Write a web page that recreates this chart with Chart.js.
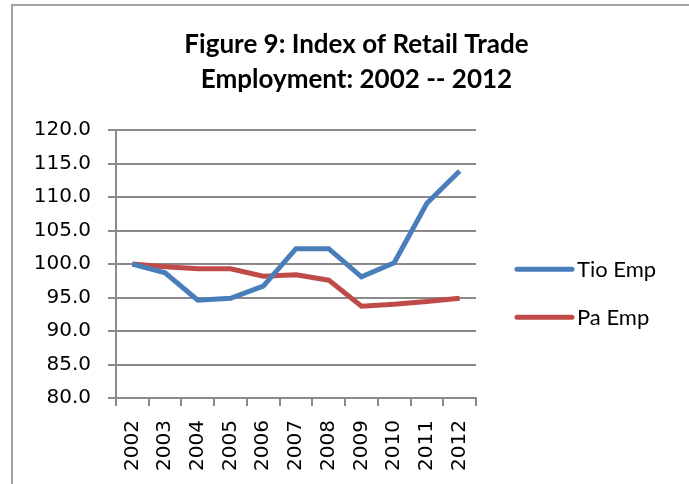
<!DOCTYPE html>
<html>
<head>
<meta charset="utf-8">
<script src="https://cdn.jsdelivr.net/npm/chart.js@4/dist/chart.umd.min.js"></script>
<style>
  html, body { margin: 0; padding: 0; background: #fff; overflow: hidden; }
  #frame {
    position: absolute; left: 11px; top: 4px; width: 700px; height: 500px;
    border: 2px solid #a3a3a3; box-sizing: border-box;
  }
  #wrap { position: absolute; left: 12px; top: 5px; width: 677px; height: 479px; }
</style>
</head>
<body>
<div id="frame"></div>
<div id="wrap"><canvas id="retailChart" width="677" height="479"></canvas></div>
<script>
const years = ["2002", "2003", "2004", "2005", "2006", "2007", "2008", "2009", "2010", "2011", "2012"];
const tioEmp = [100.0, 98.7, 94.6, 94.9, 96.7, 102.3, 102.3, 98.1, 100.2, 109.1, 113.9];
const paEmp = [100.0, 99.6, 99.3, 99.3, 98.2, 98.4, 97.6, 93.7, 94.0, 94.4, 94.9];
const yTicks = [80, 85, 90, 95, 100, 105, 110, 115, 120];

const blue = '#4a7ebb';
const red = '#be4b48';
const gridGray = '#8a8a8a';

// legend drawn to the right of the plot, a thick line swatch and a label
const sideLegend = {
  id: 'sideLegend',
  afterDraw(chart) {
    const { ctx, chartArea } = chart;
    const x0 = chartArea.right + 41;
    ctx.save();
    ctx.font = '22px Lato';
    ctx.textBaseline = 'middle';
    ctx.lineCap = 'round';
    chart.data.datasets.forEach((ds, i) => {
      const y = chartArea.top + 139 + i * 48;
      ctx.strokeStyle = ds.borderColor;
      ctx.lineWidth = 5;
      ctx.beginPath();
      ctx.moveTo(x0, y);
      ctx.lineTo(x0 + 55, y);
      ctx.stroke();
      ctx.fillStyle = '#000';
      ctx.fillText(ds.label, x0 + 60, y + 1);
    });
    ctx.restore();
  }
};

new Chart(document.getElementById('retailChart'), {
  type: 'line',
  data: {
    labels: years,
    datasets: [{
      label: 'Tio Emp',
      data: tioEmp,
      borderColor: blue,
      backgroundColor: blue,
      borderWidth: 5,
      pointRadius: 0,
      tension: 0
    }, {
      label: 'Pa Emp',
      data: paEmp,
      borderColor: red,
      backgroundColor: red,
      borderWidth: 5,
      pointRadius: 0,
      tension: 0
    }]
  },
  options: {
    responsive: false,
    animation: false,
    layout: { padding: { left: 12, right: 0, top: 0, bottom: 0 } },
    plugins: {
      legend: { display: false },
      tooltip: { enabled: false },
      title: {
        display: true,
        text: ['Figure 9: Index of Retail Trade', 'Employment: 2002 -- 2012'],
        color: '#000',
        font: { family: 'Lato', size: 26, weight: 'bold', lineHeight: 1.35 },
        padding: { top: 22, bottom: 33 }
      }
    },
    scales: {
      x: {
        offset: true,
        grid: { offset: true, drawOnChartArea: false, drawTicks: true, tickLength: 8, color: gridGray, lineWidth: 2 },
        border: { color: gridGray, width: 2 },
        ticks: {
          color: '#000', font: { family: 'DejaVu Sans', size: 20 },
          maxRotation: 90, minRotation: 90, padding: 14, autoSkip: false
        },
        afterFit(scale) { scale.height = 86; }
      },
      y: {
        min: yTicks[0],
        max: yTicks[yTicks.length - 1],
        afterBuildTicks(scale) { scale.ticks = yTicks.map(v => ({ value: v })); },
        grid: { color: gridGray, lineWidth: 2, tickLength: 8 },
        border: { color: gridGray, width: 2 },
        ticks: {
          color: '#000', font: { family: 'DejaVu Sans', size: 20 }, padding: 17,
          callback: v => Number(v).toFixed(1)
        },
        afterFit(scale) { scale.width = 92; }
      },
      // empty right-hand axis that only reserves room for the legend
      side: {
        position: 'right',
        grid: { drawOnChartArea: false, drawTicks: false },
        border: { display: false },
        ticks: { display: false },
        afterFit(scale) { scale.width = 213; }
      }
    }
  },
  plugins: [sideLegend]
});
</script>
</body>
</html>
